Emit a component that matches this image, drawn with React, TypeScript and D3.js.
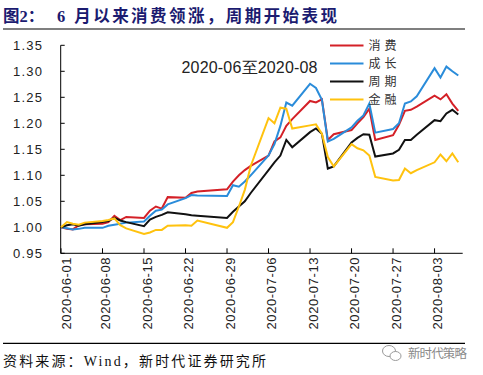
import React from "react";
import * as d3 from "d3";

const dates = [
  "2020-06-01","2020-06-02","2020-06-03","2020-06-04","2020-06-05",
  "2020-06-08","2020-06-09","2020-06-10","2020-06-11","2020-06-12",
  "2020-06-15","2020-06-16","2020-06-17","2020-06-18","2020-06-19",
  "2020-06-22","2020-06-23","2020-06-24","2020-06-29","2020-06-30",
  "2020-07-01","2020-07-02","2020-07-03",
  "2020-07-06","2020-07-07","2020-07-08","2020-07-09","2020-07-10",
  "2020-07-13","2020-07-14","2020-07-15","2020-07-16","2020-07-17",
  "2020-07-20","2020-07-21","2020-07-22","2020-07-23","2020-07-24",
  "2020-07-27","2020-07-28","2020-07-29","2020-07-30","2020-07-31",
  "2020-08-03","2020-08-04","2020-08-05","2020-08-06","2020-08-07",
];

const consumption = [
  1.000, 0.997, 0.996, 1.004, 1.006, 1.007, 1.010, 1.022, 1.014, 1.020,
  1.018, 1.032, 1.040, 1.036, 1.058, 1.057, 1.066, 1.069,
  1.073, 1.088, 1.100, 1.110, 1.118,
  1.138, 1.165, 1.173, 1.195, 1.208,
  1.243, 1.240, 1.246, 1.168, 1.179,
  1.187, 1.200, 1.212, 1.228, 1.168,
  1.177, 1.197, 1.224, 1.226, 1.232,
  1.253, 1.246, 1.256, 1.238, 1.224,
];

const growth = [
  1.000, 0.998, 0.996, 0.997, 0.999, 0.999, 1.003, 1.005, 1.007, 1.009,
  1.011, 1.022, 1.032, 1.034, 1.044, 1.056, 1.062, 1.061,
  1.060, 1.081, 1.078, 1.088, 1.100,
  1.138, 1.160, 1.195, 1.240, 1.234,
  1.276, 1.268, 1.245, 1.165, 1.170,
  1.192, 1.205, 1.215, 1.238, 1.182,
  1.189, 1.200, 1.238, 1.242, 1.252,
  1.306, 1.288, 1.309, 1.300, 1.292,
];

const cyclical = [
  1.000, 1.004, 1.006, 1.003, 1.006, 1.010, 1.012, 1.018, 1.013, 1.010,
  1.002, 1.015, 1.020, 1.024, 1.029, 1.025, 1.023, 1.022,
  1.018, 1.030, 1.040, 1.050, 1.066,
  1.110, 1.125, 1.138, 1.168, 1.154,
  1.183, 1.190, 1.180, 1.113, 1.117,
  1.163, 1.172, 1.179, 1.178, 1.136,
  1.142, 1.149, 1.168, 1.168, 1.178,
  1.206, 1.204, 1.219, 1.226, 1.217,
];

const finance = [
  1.000, 1.010, 1.007, 1.005, 1.009, 1.012, 1.014, 1.017, 1.004, 0.998,
  0.987, 0.990, 0.995, 0.995, 1.003, 1.004, 1.003, 1.013,
  0.999, 1.010, 1.040, 1.072, 1.118,
  1.210, 1.200, 1.230, 1.228, 1.190,
  1.196, 1.198, 1.180, 1.135, 1.117,
  1.160, 1.152, 1.148, 1.138, 1.097,
  1.090, 1.091, 1.113, 1.104, 1.110,
  1.125, 1.140, 1.127, 1.142, 1.125,
];

const seriesNames = ["消费", "成长", "周期", "金融"];
const seriesColors = ["#D42027", "#2A8CDA", "#111111", "#FFC20E"];
const seriesValues = [consumption, growth, cyclical, finance];

const yTickLabels = ["0.95", "1.00", "1.05", "1.10", "1.15", "1.20", "1.25", "1.30", "1.35"];
const xTickLabels = [
  "2020-06-01", "2020-06-08", "2020-06-15", "2020-06-22", "2020-06-29",
  "2020-07-06", "2020-07-13", "2020-07-20", "2020-07-27", "2020-08-03",
];

const title = "图2：";
const titleRest = "6 月以来消费领涨，周期开始表现";
const periodLabel = "2020-06至2020-08";
const sourceText = "资料来源：Wind，新时代证券研究所";
const watermark = "新时代策略";

const parse = d3.timeParse("%Y-%m-%d");

export default function App() {
  const x = d3
    .scaleTime()
    .domain([parse("2020-06-01") as Date, parse("2020-08-08") as Date])
    .range([61, 464.2]);
  const y = d3.scaleLinear().domain([0.95, 1.35]).range([253.3, 45.3]);

  const parsedDates = dates.map((d) => parse(d) as Date);
  const line = d3
    .line<number>()
    .x((_, i) => x(parsedDates[i]))
    .y((v) => y(v));

  const axisLeft = 60.7;
  const axisBottom = 253.3;
  const sans = "'Liberation Sans', Arial, sans-serif";
  const serif = "'Liberation Serif', 'Noto Sans CJK SC', serif";
  const cjk = "'Noto Sans CJK SC', sans-serif";

  return (
    <svg
      width={483}
      height={375}
      style={{ position: "absolute", left: 0, top: 0, background: "#fff" }}
    >
      <rect x={0} y={0} width={483} height={375} fill="#fff" />
      {/* Title */}
      <text x={3} y={22} fontFamily={serif} fontWeight="bold" fontSize={16.5} fill="#1b1b70">
        {title}
      </text>
      <text
        x={57}
        y={22}
        fontFamily={serif}
        fontWeight="bold"
        fontSize={16.5}
        fill="#1b1b70"
        textLength={280}
        lengthAdjust="spacing"
      >
        {titleRest}
      </text>
      <line x1={3} x2={465} y1={29} y2={29} stroke="#000" strokeWidth={1.2} />

      {/* Y axis */}
      <line x1={axisLeft} x2={axisLeft} y1={45.3} y2={axisBottom} stroke="#000" strokeWidth={1} />
      {yTickLabels.map((t) => {
        const yy = y(+t);
        return (
          <g key={t}>
            <line x1={axisLeft} x2={axisLeft + 4} y1={yy} y2={yy} stroke="#000" strokeWidth={1} />
            <text
              x={42}
              y={yy + 4.6}
              textAnchor="end"
              fontFamily={sans}
              fontSize={13}
              fill="#222"
              textLength={29}
              lengthAdjust="spacing"
            >
              {t}
            </text>
          </g>
        );
      })}

      {/* X axis */}
      <line x1={axisLeft} x2={462.7} y1={axisBottom} y2={axisBottom} stroke="#000" strokeWidth={1} />
      {xTickLabels.map((t, i) => {
        const xx = x(parse(t) as Date);
        const lx = i === 0 ? xx + 5.5 : xx + 3;
        return (
          <g key={t}>
            <line x1={xx} x2={xx} y1={axisBottom} y2={axisBottom - 5} stroke="#000" strokeWidth={1} />
            <text
              transform={`translate(${lx},${257.5}) rotate(-90)`}
              textAnchor="end"
              dy="0.35em"
              fontFamily={sans}
              fontSize={13}
              fill="#222"
              textLength={72}
              lengthAdjust="spacing"
            >
              {t}
            </text>
          </g>
        );
      })}

      {/* Lines */}
      {seriesValues.map((vals, i) => (
        <path
          key={seriesNames[i]}
          d={line(vals) || ""}
          fill="none"
          stroke={seriesColors[i]}
          strokeWidth={2}
        />
      ))}

      {/* Period label */}
      <text x={181.5} y={72.5} fontFamily={sans} fontSize={16} fill="#222" textLength={136} lengthAdjust="spacing">
        {periodLabel}
      </text>

      {/* Legend */}
      {seriesNames.map((n, i) => {
        const ly = 45.5 + i * 18;
        return (
          <g key={n}>
            <line x1={330} x2={363.5} y1={ly} y2={ly} stroke={seriesColors[i]} strokeWidth={2} />
            <text
              x={368.5}
              y={ly + 4.5}
              fontFamily={cjk}
              fontSize={12}
              fill="#333"
              textLength={28}
              lengthAdjust="spacing"
            >
              {n}
            </text>
          </g>
        );
      })}

      {/* Footer */}
      <line x1={3} x2={465} y1={343.3} y2={343.3} stroke="#000" strokeWidth={1.2} />
      <text
        x={3}
        y={366}
        fontFamily={serif}
        fontSize={14}
        fill="#111"
        textLength={263}
        lengthAdjust="spacing"
      >
        {sourceText}
      </text>

      {/* Watermark */}
      <g stroke="#9a9a9a" strokeWidth={1} fill="#fff">
        <ellipse cx={389} cy={351} rx={6.5} ry={5.5} />
        <ellipse cx={395.5} cy={356} rx={5.5} ry={4.5} />
      </g>
      <text x={408} y={357.5} fontFamily={cjk} fontSize={12.5} fill="#8a8a8a" textLength={59} lengthAdjust="spacing">
        {watermark}
      </text>
    </svg>
  );
}
